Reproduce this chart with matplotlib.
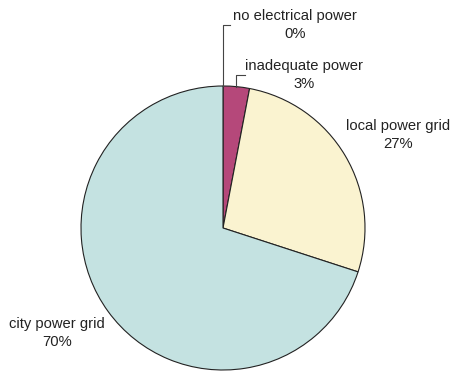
import matplotlib
matplotlib.use("Agg")
import matplotlib.pyplot as plt

labels = ["no electrical power", "inadequate power", "local power grid", "city power grid"]
shares = [0, 3, 27, 70]
colors = ["#C4E2E1", "#B5487A", "#FAF3D0", "#C4E2E1"]

# label anchor points (data units, pie radius = 1)
label_pos = [(0.51, 1.43), (0.57, 1.077), (1.232, 0.655), (-1.17, -0.74)]

plt.rcParams["font.family"] = ["Liberation Sans", "DejaVu Sans"]

fig = plt.figure(figsize=(4.54, 3.71), dpi=100)
ax = fig.add_axes([81 / 454, 1 / 371, 284 / 454, 284 / 371])
ax.pie(shares, colors=colors, startangle=90, counterclock=False, radius=1,
       wedgeprops=dict(edgecolor="#222222", linewidth=0.8))
ax.set_xlim(-1, 1)
ax.set_ylim(-1, 1)
ax.set_aspect("equal")
ax.axis("off")

for name, val, (x, y) in zip(labels, shares, label_pos):
    ax.text(x, y, f"{name}\n{val}%", ha="center", va="center", fontsize=10.6,
            color="#222222", linespacing=1.35, clip_on=False)

# leader lines for the two thin slices at the top
ax.plot([0, 0, 0.05], [1.0, 1.43, 1.43], color="#444444", lw=0.8, clip_on=False)
ax.plot([0.09, 0.09, 0.155], [0.995, 1.077, 1.077], color="#444444", lw=0.8, clip_on=False)

fig.savefig("out.png", dpi=100)
